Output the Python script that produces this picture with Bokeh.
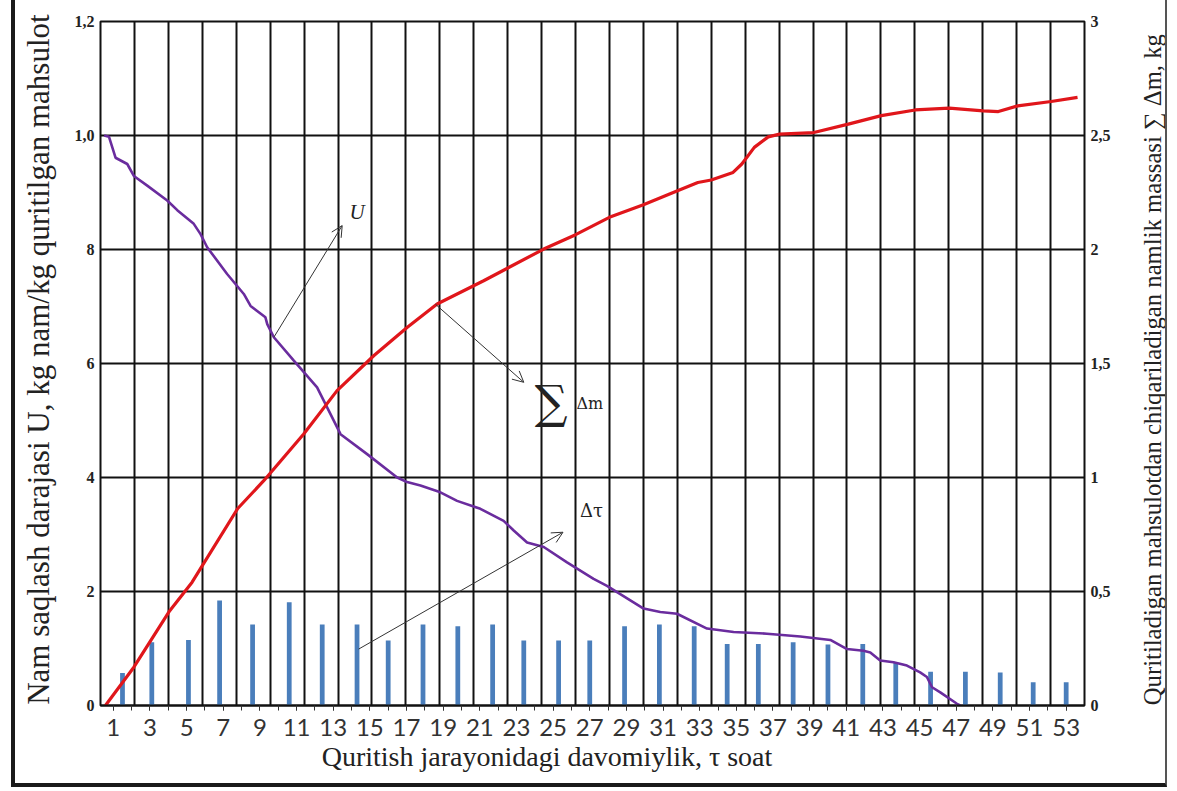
import numpy as np
from bokeh.plotting import figure
from bokeh.layouts import row
from bokeh.models import (Range1d, LinearAxis, FixedTicker, Arrow, OpenHead, Label,
                          Spacer, Title)
from bokeh.embed import file_html
from bokeh.resources import INLINE

# ---------------- data ----------------
hour_ticks = list(range(1, 54, 2))
hour_minor = list(range(1, 54))
u_ticks = [0, 0.2, 0.4, 0.6, 0.8, 1.0, 1.2]
u_tick_labels = ["0", "2", "4", "6", "8", "1,0", "1,2"]
m_ticks = [0, 0.5, 1, 1.5, 2, 2.5, 3]
m_tick_labels = ["0", "0,5", "1", "1,5", "2", "2,5", "3"]

# moisture content U (left axis)
tau_u = [0.5, 0.76, 1.12, 1.76, 2.12, 2.85, 3.94, 4.49, 5.39, 5.76, 6.12, 7.21, 8.12,
         8.49, 9.30, 9.40, 9.76, 10.85, 12.12, 13.40, 14.85, 16.49, 17.03, 17.76,
         18.85, 19.76, 21.03, 22.30, 22.85, 23.58, 24.49, 25.76, 27.21, 27.94, 29.94,
         30.85, 31.76, 33.40, 34.85, 36.67, 38.49, 40.13, 41.04, 41.94, 42.31, 42.85,
         43.58, 44.31, 45.03, 45.40, 45.68, 46.13, 47.04, 47.22]
u_vals = [1.0, 0.998, 0.961, 0.950, 0.929, 0.912, 0.886, 0.869, 0.845, 0.827, 0.804,
          0.757, 0.722, 0.701, 0.681, 0.669, 0.646, 0.605, 0.558, 0.476, 0.441, 0.400,
          0.392, 0.386, 0.374, 0.359, 0.345, 0.324, 0.307, 0.286, 0.278, 0.251, 0.222,
          0.210, 0.170, 0.164, 0.161, 0.135, 0.129, 0.126, 0.121, 0.115, 0.099, 0.096,
          0.093, 0.079, 0.076, 0.070, 0.058, 0.050, 0.032, 0.023, 0.003, 0.0]

# removed moisture mass sum(dm) (right axis)
tau_m = [0.57, 2.12, 4.08, 5.30, 7.79, 9.21, 11.39, 13.21, 15.21, 17.03, 18.67, 21.21,
         24.49, 26.23, 28.07, 29.93, 31.79, 32.90, 33.63, 34.82, 35.30, 35.98, 36.74,
         37.36, 39.23, 41.11, 42.91, 44.76, 46.62, 48.47, 49.30, 50.36, 52.18, 53.62]
m_vals = [0.0, 0.168, 0.416, 0.541, 0.864, 0.986, 1.191, 1.381, 1.534, 1.658, 1.761,
          1.863, 2.002, 2.065, 2.141, 2.196, 2.258, 2.294, 2.305, 2.338, 2.375, 2.448,
          2.494, 2.506, 2.513, 2.550, 2.587, 2.612, 2.620, 2.608, 2.605, 2.630, 2.649,
          2.667]

# delta tau bars (left axis)
bar_tau = [1.5, 3.1, 5.1, 6.8, 8.6, 10.6, 12.4, 14.3, 16.0, 17.9, 19.8, 21.7, 23.4,
           25.3, 27.0, 28.9, 30.8, 32.7, 34.5, 36.2, 38.1, 40.0, 41.9, 43.7, 45.6,
           47.5, 49.4, 51.2, 53.0]
bar_dt = [0.057, 0.111, 0.115, 0.184, 0.142, 0.181, 0.142, 0.142, 0.114, 0.142, 0.139,
          0.142, 0.114, 0.114, 0.114, 0.139, 0.142, 0.139, 0.108, 0.108, 0.111, 0.107,
          0.108, 0.075, 0.059, 0.059, 0.058, 0.041, 0.041]

x_title = "Quritish jarayonidagi davomiylik, τ soat"
left_title = "Nam saqlash darajasi  U, kg nam/kg quritilgan mahsulot"
right_title = "Quritiladigan  mahsulotdan chiqariladigan  namlik massasi ∑ Δm, kg"

X0, X1 = 0.3, 54.0
H = 787
NBSP = "\u00a0"

p = figure(width=1110, height=H, output_backend="svg", toolbar_location=None,
           x_range=Range1d(X0, X1), y_range=Range1d(0, 1.2),
           min_border_left=85, min_border_right=41, min_border_top=21,
           min_border_bottom=82)
p.styles = {"border-left": "4px solid #1a1a1a", "border-bottom": "4px solid #1a1a1a"}
p.background_fill_color = "white"
p.border_fill_color = "white"
p.outline_line_color = "#111111"
p.outline_line_width = 2
p.extra_y_ranges = {"m": Range1d(0, 3)}

# grid
p.xgrid.ticker = FixedTicker(ticks=list(np.linspace(X0, X1, 30)))
p.xgrid.grid_line_color = "#111111"
p.xgrid.grid_line_width = 2
p.ygrid.ticker = FixedTicker(ticks=u_ticks)
p.ygrid.grid_line_color = "#111111"
p.ygrid.grid_line_width = 2

# x axis
xa = p.xaxis[0]
xa.ticker = FixedTicker(ticks=hour_ticks, minor_ticks=hour_minor)
xa.axis_line_color = "#111111"
xa.axis_line_width = 2
xa.major_tick_out = 5
xa.major_tick_in = 0
xa.minor_tick_out = 5
xa.minor_tick_in = 0
xa.major_tick_line_color = "#333333"
xa.minor_tick_line_color = "#333333"
xa.major_label_text_font = "Lato"
xa.major_label_text_font_size = "24px"
xa.major_label_text_color = "#333333"
xa.major_label_standoff = 8
xa.axis_label = x_title + NBSP * 13
xa.axis_label_text_font = "Liberation Serif"
xa.axis_label_text_font_style = "normal"
xa.axis_label_text_font_size = "28px"
xa.axis_label_text_color = "#222222"
xa.axis_label_standoff = 2

# left axis
ya = p.yaxis[0]
ya.ticker = FixedTicker(ticks=u_ticks)
ya.major_label_overrides = {t: s for t, s in zip(u_ticks, u_tick_labels)}
ya.major_tick_out = 0
ya.major_tick_in = 0
ya.minor_tick_out = 0
ya.minor_tick_in = 0
ya.axis_line_color = None
ya.major_label_text_font = "Liberation Serif"
ya.major_label_text_font_style = "bold"
ya.major_label_text_font_size = "16px"
ya.major_label_text_color = "#222222"
ya.major_label_standoff = 6
ya.axis_label = NBSP * 2 + left_title
ya.axis_label_text_font = "Liberation Serif"
ya.axis_label_text_font_style = "normal"
ya.axis_label_text_font_size = "31px"
ya.axis_label_text_color = "#222222"
ya.axis_label_standoff = 16

# right axis
ra = LinearAxis(y_range_name="m", ticker=FixedTicker(ticks=m_ticks))
ra.major_label_overrides = {t: s for t, s in zip(m_ticks, m_tick_labels)}
ra.major_tick_out = 0
ra.major_tick_in = 0
ra.minor_tick_out = 0
ra.minor_tick_in = 0
ra.axis_line_color = None
ra.major_label_text_font = "Liberation Serif"
ra.major_label_text_font_style = "bold"
ra.major_label_text_font_size = "16px"
ra.major_label_text_color = "#222222"
ra.major_label_standoff = 6
p.add_layout(ra, "right")

# bars, curves
p.vbar(x=bar_tau, top=bar_dt, width=0.26, bottom=0, fill_color="#4a7ebb",
       line_color=None)
p.line(tau_u, u_vals, line_color="#6a2c9e", line_width=2.6)
p.line(tau_m, m_vals, y_range_name="m", line_color="#e0161b", line_width=3.2)

# annotations
def arrow(x0, y0, x1, y1):
    p.add_layout(Arrow(end=OpenHead(size=11, line_color="#333333", line_width=1),
                       x_start=x0, y_start=y0, x_end=x1, y_end=y1,
                       line_color="#333333", line_width=1))

arrow(9.76, 0.646, 13.49, 0.842)
arrow(18.58, 0.704, 23.40, 0.567)
arrow(14.39, 0.099, 25.54, 0.304)

p.add_layout(Label(x=14.3, y=0.865, text="U", text_font="Liberation Serif",
                   text_font_style="italic", text_font_size="21px",
                   text_align="center", text_baseline="middle", text_color="#222222"))
p.add_layout(Label(x=24.9, y=0.533, text="∑", text_font="DejaVu Serif",
                   text_font_size="46px", text_align="center",
                   text_baseline="middle", text_color="#222222"))
p.add_layout(Label(x=27.0, y=0.53, text="Δm", text_font="DejaVu Serif",
                   text_font_size="16px", text_align="center",
                   text_baseline="middle", text_color="#222222"))
p.add_layout(Label(x=27.1, y=0.342, text="Δτ", text_font="DejaVu Serif",
                   text_font_size="18px", text_align="center",
                   text_baseline="middle", text_color="#222222"))

# right-hand strip: the right axis title as a left-side title (reads bottom to top)
W2 = 46
p2 = figure(width=W2, height=H, output_backend="svg", toolbar_location=None,
            x_range=Range1d(0, 1), y_range=Range1d(0, 1),
            x_axis_location=None, y_axis_location=None,
            min_border_left=44, min_border_right=0, min_border_top=0,
            min_border_bottom=18)
p2.grid.visible = False
p2.outline_line_color = None
p2.background_fill_color = "white"
p2.border_fill_color = "white"
p2.styles = {"border-right": "2px solid #555555", "border-bottom": "4px solid #1a1a1a"}
p2.add_layout(Title(text=right_title, align="center", standoff=0,
                    text_font="Liberation Serif", text_font_style="normal",
                    text_font_size="24.7px", text_color="#222222"), "left")

open("out.html", "w").write(file_html(row(Spacer(width=11, height=H), p, p2), INLINE))
